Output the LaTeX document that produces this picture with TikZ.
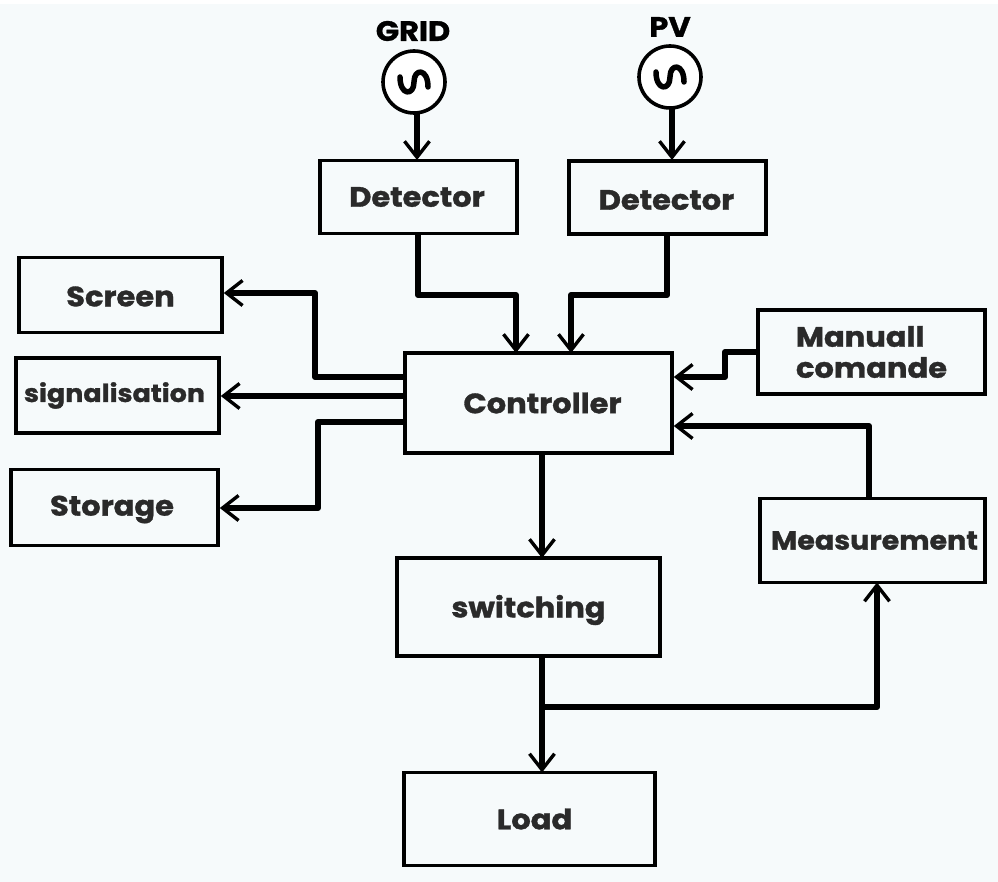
\documentclass[tikz,border=0pt]{standalone}
\usepackage{fontspec}
\setmainfont{Poppins}[BoldFont={Poppins Bold},BoldFeatures={FakeStretch=1.09,FakeBold=1.2}]
\usetikzlibrary{arrows.meta}
\definecolor{bgc}{HTML}{F6FAFB}
\definecolor{ink}{HTML}{2A2A2A}
\newcommand{\lowertext}[2]{\raisebox{0pt}[\dimexpr\height+#1\relax][\depth]{#2}}
\tikzset{
  box/.style={draw=black,line width=3.6pt,fill=bgc,inner sep=0pt,align=center,text=ink,font=\bfseries\fontsize{28}{31}\selectfont},
  src/.style={draw=black,line width=3.6pt,circle,inner sep=0pt,minimum size=62pt,fill=white},
  srclabel/.style={inner sep=0pt,text=black,font=\bfseries\fontsize{28}{30}\selectfont},
  wire/.style={line width=6pt,line join=round,-{Straight Barb[length=16pt,width=25pt,line width=3.4pt]}},
  wave/.style={line width=5.5pt,line cap=round,line join=round},
}
\begin{document}
\begin{tikzpicture}[x=1pt,y=-1pt]
\useasboundingbox (0,0) rectangle (998,882);
\fill[white] (0,0) rectangle (998,882);
\fill[bgc] (0,4) rectangle (998,882);
% sources
\node[src] (grid) at (414,82) {};
\node[src] (pv) at (670,77) {};
\node[srclabel] (gridl) at (413,31) {GRID};
\node[srclabel] (pvl) at (670,27) {PV};
\draw[wave] (400,77) .. controls (400,96) and (414,96) .. (414,82) .. controls (414,68) and (428,68) .. (428,87);
\draw[wave] (656,72) .. controls (656,91) and (670,91) .. (670,77) .. controls (670,63) and (684,63) .. (684,82);
% boxes
\node[box,minimum width=197pt,minimum height=73pt] (det1) at (418.5,197) {Detector\hspace*{3pt}};
\node[box,minimum width=197pt,minimum height=73pt] (det2) at (667.5,197.5) {\lowertext{5pt}{Detector}\hspace*{2pt}};
\node[box,minimum width=203pt,minimum height=75pt] (screen) at (120.5,295) {\lowertext{3pt}{Screen}};
\node[box,minimum width=203pt,minimum height=75pt,font=\bfseries\fontsize{24.7}{28}\selectfont] (sig) at (117.5,395.5) {signalisation\hspace*{6pt}};
\node[box,minimum width=207pt,minimum height=76pt] (stor) at (114.5,507.5) {\lowertext{4pt}{Storage}\hspace*{5pt}};
\node[box,minimum width=267pt,minimum height=100pt] (ctrl) at (538.5,403) {\hspace*{8pt}Controller};
\node[box,minimum width=227pt,minimum height=84pt,align=left] (man) at (871.5,352) {Manuall\\comande};
\node[box,minimum width=225pt,minimum height=84pt,font=\bfseries\fontsize{26.2}{28}\selectfont] (meas) at (872.5,540.5) {\hspace*{4pt}Measurement};
\node[box,minimum width=263pt,minimum height=98pt] (sw) at (528.5,607) {\lowertext{6pt}{switching}};
\node[box,minimum width=251pt,minimum height=93pt] (load) at (529.5,819) {\hspace*{10pt}Load};
% junctions
\coordinate (jb) at (542,707);
% connectors
\draw[wire] (417,113) -- (417,160);
\draw[wire] (672,108) -- (672,160);
\draw[wire] (418,233.5) -- (418,295) -- (516,295) -- (516,353);
\draw[wire] (667,234) -- (667,295) -- (571,295) -- (571,353);
\draw[wire] (ctrl.west |- 0,377) -- (315,377) -- (315,293) -- (screen.east |- 0,293);
\draw[wire] (ctrl.west |- 0,396) -- (sig.east |- 0,396);
\draw[wire] (ctrl.west |- 0,422) -- (318,422) -- (318,508) -- (stor.east |- 0,508);
\draw[wire] (man.west |- 0,352) -- (725,352) -- (725,377) -- (ctrl.east |- 0,377);
\draw[wire] (869,498.5) -- (869,426) -- (ctrl.east |- 0,426);
\draw[wire] (542,453) -- (542,558);
\draw[wire] (542,656) -- (542,772.5);
\draw[wire] (jb) -- (877,707) -- (877,582.5);
\end{tikzpicture}
\end{document}
